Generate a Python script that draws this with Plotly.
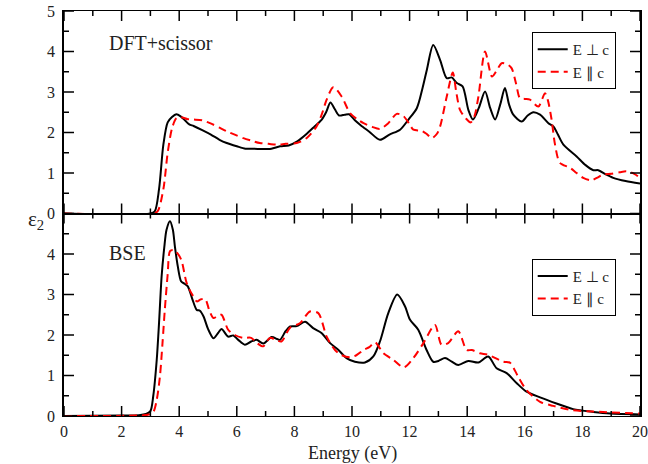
import plotly.graph_objects as go
from plotly.subplots import make_subplots

# ---------------- data ----------------
top_perp_E = [0, 3.0, 3.15, 3.3, 3.45, 3.6, 3.75, 3.9, 4.05, 4.2, 4.35, 4.5, 4.8, 5.1, 5.4, 5.65,
              6.0, 6.3, 6.6, 6.9, 7.2, 7.5, 7.8, 8.1, 8.4, 8.7, 8.95, 9.1, 9.25, 9.4, 9.55, 9.75,
              9.9, 10.1, 10.3, 10.6, 10.97, 11.3, 11.67, 11.96, 12.25, 12.45, 12.6, 12.82, 13.06,
              13.29, 13.46, 13.64, 13.84, 14.04, 14.2, 14.4, 14.62, 14.8, 14.97, 15.15, 15.31,
              15.45, 15.6, 15.89, 16.1, 16.3, 16.53, 16.82, 16.99, 17.15, 17.34, 17.8, 18.1,
              18.38, 18.55, 18.8, 19.07, 19.5, 20.0]
top_perp_eps = [0, 0, 0.05, 0.6, 1.7, 2.25, 2.38, 2.45, 2.4, 2.3, 2.2, 2.16, 2.06, 1.95, 1.82, 1.74,
                1.66, 1.6, 1.6, 1.59, 1.6, 1.66, 1.68, 1.78, 1.95, 2.15, 2.32, 2.5, 2.74, 2.58, 2.42,
                2.44, 2.45, 2.3, 2.18, 2.02, 1.82, 1.95, 2.07, 2.32, 2.6, 3.1, 3.55, 4.16, 3.79,
                3.34, 3.36, 3.22, 3.14, 2.56, 2.32, 2.6, 3.01, 2.6, 2.32, 2.7, 3.1,
                2.7, 2.44, 2.27, 2.42, 2.5, 2.44, 2.23, 2.15, 1.95, 1.70, 1.41, 1.2,
                1.07, 1.07, 0.97, 0.88, 0.8, 0.74]

top_par_E = [0, 3.1, 3.25, 3.45, 3.6, 3.75, 3.9, 4.05, 4.3, 4.5, 4.8, 5.07, 5.4, 5.65, 5.95, 6.23,
             6.5, 6.8, 7.1, 7.38, 7.7, 8.08, 8.42, 8.77, 8.95, 9.12, 9.35, 9.64, 9.93, 10.2, 10.4,
             10.7, 10.97, 11.26, 11.55, 11.78, 12.0, 12.13, 12.42, 12.6, 12.77, 12.95, 13.06,
             13.29, 13.5, 13.62, 13.75, 13.95, 14.12, 14.25, 14.39, 14.62, 14.86, 15.0, 15.2,
             15.4, 15.54, 15.7, 15.83, 16.0, 16.18, 16.47, 16.7, 16.8, 16.93, 17.05, 17.22,
             17.57, 17.8, 18.03, 18.32, 18.5, 18.72, 19.0, 19.3, 19.53, 19.8, 20.0]
top_par_eps = [0, 0, 0.05, 0.6, 1.5, 2.1, 2.35, 2.38, 2.33, 2.32, 2.3, 2.23, 2.12, 2.03, 1.94, 1.86,
               1.8, 1.74, 1.72, 1.70, 1.72, 1.74, 1.86, 2.15, 2.45, 2.81, 3.12, 2.89, 2.48, 2.32, 2.23,
               2.14, 2.09, 2.23, 2.46, 2.41, 2.2, 2.07, 2.04, 1.96, 1.86, 1.97, 2.15,
               2.89, 3.48, 3.0, 2.56, 2.35, 2.25, 2.4, 2.89, 4.0, 3.38, 3.5, 3.71,
               3.68, 3.59, 3.2, 2.85, 2.83, 2.81, 2.64, 2.97, 2.8, 2.32, 1.7, 1.25,
               1.13, 1.0, 0.88, 0.82, 0.88, 0.96, 0.98, 1.02, 1.04, 0.98, 0.88]

bse_perp_E = [0, 2.0, 2.6, 2.85, 3.0, 3.1, 3.22, 3.3, 3.39, 3.48, 3.56, 3.68, 3.78, 3.85, 3.95, 4.07,
              4.2, 4.3, 4.45, 4.61, 4.72, 4.85, 5.0, 5.19, 5.35, 5.47, 5.7, 5.88, 6.05, 6.28, 6.5,
              6.69, 6.92, 7.21, 7.4, 7.5, 7.7, 7.85, 8.08, 8.37, 8.65, 8.94, 9.24, 9.53, 9.81, 10.1,
              10.45, 10.74, 10.97, 11.26, 11.57, 11.84, 12.01, 12.3, 12.59, 12.82, 13.0, 13.23,
              13.45, 13.69, 14.04, 14.39, 14.73, 15.02, 15.37, 15.72, 16.06, 16.53, 17.1, 17.68,
              18.38, 18.96, 20.0]
bse_perp_eps = [0, 0.01, 0.02, 0.05, 0.12, 0.5, 1.39, 2.3, 3.45, 4.15, 4.6, 4.81, 4.6, 4.19, 3.7, 3.32,
                3.26, 3.2, 2.9, 2.62, 2.6, 2.45, 2.15, 1.92, 2.05, 2.15, 1.96, 1.99, 1.88, 1.76, 1.84,
                1.88, 1.79, 1.95, 1.9, 1.88, 2.1, 2.21, 2.22, 2.33, 2.17, 2.05, 1.80, 1.63, 1.43, 1.34,
                1.32, 1.47, 1.84, 2.54, 3.0, 2.71, 2.38, 2.13, 1.63, 1.34, 1.36, 1.43,
                1.35, 1.26, 1.36, 1.32, 1.47, 1.18, 1.06, 0.81, 0.6, 0.46, 0.31, 0.17,
                0.1, 0.06, 0.04]

bse_par_E = [0, 2.5, 2.9, 3.1, 3.22, 3.33, 3.42, 3.5, 3.6, 3.68, 3.78, 3.9, 4.07, 4.26, 4.45, 4.61,
             4.75, 4.9, 5.05, 5.19, 5.35, 5.47, 5.7, 5.93, 6.22, 6.5, 6.7, 6.92, 7.15, 7.35, 7.55,
             7.85, 8.19, 8.54, 8.83, 9.12, 9.41, 9.65, 9.93, 10.15, 10.4, 10.6, 10.8, 11.09, 11.43,
             11.8, 12.13, 12.48, 12.88, 13.11, 13.34, 13.69, 13.98, 14.16, 14.44, 14.73, 15.25,
             15.48, 15.77, 16.06, 16.53, 16.99, 17.68, 18.38, 20.0]
bse_par_eps = [0, 0.01, 0.03, 0.1, 0.4, 0.97, 1.8, 2.62, 3.5, 4.07, 4.1, 4.05, 3.86, 3.28, 3.0, 2.83,
               2.88, 2.89, 2.6, 2.42, 2.48, 2.5, 2.13, 2.0, 1.93, 1.93, 1.8, 1.72, 1.93, 1.88, 1.84,
               2.18, 2.29, 2.58, 2.54, 1.96, 1.63, 1.5, 1.45, 1.5, 1.63, 1.7, 1.82, 1.55, 1.39,
               1.2, 1.43, 1.8, 2.25, 1.76, 1.80, 2.09, 1.63, 1.63, 1.55, 1.51, 1.34,
               1.32, 0.97, 0.64, 0.35, 0.25, 0.14, 0.11, 0.06]

label_perp = "E \u22a5 c"
label_par = "E \u2225 c"

x_range = [0, 20]
y_range = [0, 5]
x_major_ticks = [0, 2, 4, 6, 8, 10, 12, 14, 16, 18, 20]
x_minor_ticks = [1, 3, 5, 7, 9, 11, 13, 15, 17, 19]
y_major_ticks = [0, 1, 2, 3, 4, 5]
y_minor_ticks = [0.5, 1.5, 2.5, 3.5, 4.5]

# ---------------- figure ----------------
W, H = 648, 464
MARGIN = dict(l=64, r=8, t=11, b=48)
SERIF = "Liberation Serif"
TXT = "#222"
MAJOR_LEN, MINOR_LEN = 10, 5  # tick lengths in pixels

fig = make_subplots(rows=2, cols=1, shared_xaxes=True, vertical_spacing=0)

black = dict(color="black", width=2, shape="spline", smoothing=0.8)
red = dict(color="#ff0000", width=2, dash="8px,5px", shape="spline", smoothing=0.8)

fig.add_trace(go.Scatter(x=top_perp_E, y=top_perp_eps, mode="lines", line=black,
                         name=label_perp, legend="legend"), row=1, col=1)
fig.add_trace(go.Scatter(x=top_par_E, y=top_par_eps, mode="lines", line=red,
                         name=label_par, legend="legend"), row=1, col=1)
fig.add_trace(go.Scatter(x=bse_perp_E, y=bse_perp_eps, mode="lines", line=black,
                         name=label_perp, legend="legend2"), row=2, col=1)
fig.add_trace(go.Scatter(x=bse_par_E, y=bse_par_eps, mode="lines", line=red,
                         name=label_par, legend="legend2"), row=2, col=1)

# inside tick marks on all four sides of each panel (pixel length -> axis units)
plot_w = W - MARGIN["l"] - MARGIN["r"]
panel_h = (H - MARGIN["t"] - MARGIN["b"]) / 2
x_per_px = (x_range[1] - x_range[0]) / plot_w
y_per_px = (y_range[1] - y_range[0]) / panel_h


def tick_segments():
    xs, ys = [], []
    for vals, ln in ((x_major_ticks, MAJOR_LEN), (x_minor_ticks, MINOR_LEN)):
        d = ln * y_per_px
        for v in vals:
            xs += [v, v, None, v, v, None]
            ys += [y_range[0], y_range[0] + d, None, y_range[1], y_range[1] - d, None]
    for vals, ln in ((y_major_ticks, MAJOR_LEN), (y_minor_ticks, MINOR_LEN)):
        d = ln * x_per_px
        for v in vals:
            xs += [x_range[0], x_range[0] + d, None, x_range[1], x_range[1] - d, None]
            ys += [v, v, None, v, v, None]
    return xs, ys


tx, ty = tick_segments()
for r in (1, 2):
    fig.add_trace(go.Scatter(x=tx, y=ty, mode="lines", line=dict(color="black", width=1.5),
                             showlegend=False, hoverinfo="skip", connectgaps=False),
                  row=r, col=1)


def ax(**kw):
    d = dict(showline=True, linecolor="black", linewidth=1.5, mirror=True,
             ticks="", showgrid=False, zeroline=False, ticklabelstandoff=4,
             tickfont=dict(family=SERIF, size=16, color=TXT))
    d.update(kw)
    return d


legend_style = dict(bgcolor="white", bordercolor="black", borderwidth=1,
                    font=dict(family=SERIF, size=15, color=TXT),
                    xanchor="left", yanchor="top", itemwidth=30, tracegroupgap=0)

fig.update_layout(
    template="none",
    width=W, height=H,
    margin=MARGIN,
    font=dict(family=SERIF, size=16, color=TXT),
    plot_bgcolor="white", paper_bgcolor="white",
    xaxis=ax(range=x_range, tickvals=x_major_ticks, showticklabels=False, linewidth=1.2),
    xaxis2=ax(range=x_range, tickvals=x_major_ticks, linewidth=1.2, ticklabelstandoff=1),
    yaxis=ax(range=y_range, tickvals=y_major_ticks),
    yaxis2=ax(range=y_range, tickvals=y_major_ticks[:-1]),
    legend=dict(x=0.812, y=0.948, **legend_style),
    legend2=dict(x=0.812, y=0.388, **legend_style),
    annotations=[
        dict(text="DFT+scissor", x=0.0747, y=0.921, xref="paper", yref="paper",
             xanchor="left", yanchor="middle", showarrow=False,
             font=dict(family=SERIF, size=20, color=TXT)),
        dict(text="BSE", x=0.0747, y=0.402, xref="paper", yref="paper",
             xanchor="left", yanchor="middle", showarrow=False,
             font=dict(family=SERIF, size=20, color=TXT)),
        dict(text="Energy (eV)", x=0.5, y=-0.092, xref="paper", yref="paper",
             xanchor="center", yanchor="middle", showarrow=False,
             font=dict(family=SERIF, size=18, color=TXT)),
        dict(text="\u03b5<sub>2</sub>", x=-0.049, y=0.484, xref="paper", yref="paper",
             xanchor="center", yanchor="middle", showarrow=False,
             font=dict(family=SERIF, size=21, color=TXT)),
    ],
)

fig.write_html("out.html")
